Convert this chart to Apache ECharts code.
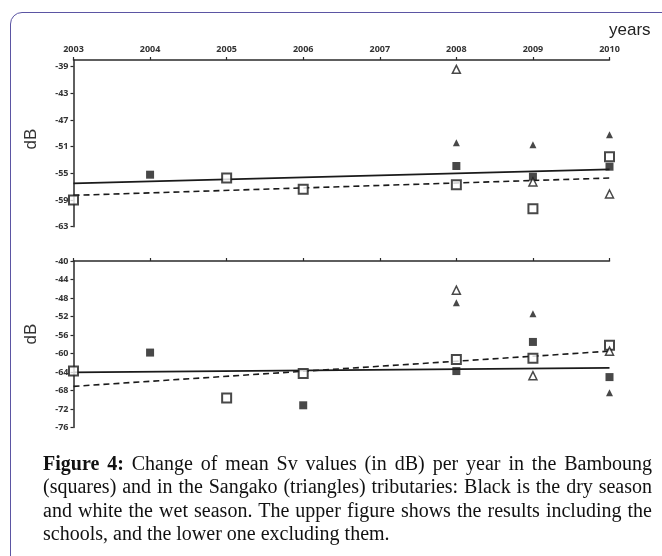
<!DOCTYPE html>
<html>
<head>
<meta charset="utf-8">
<script src="https://cdn.jsdelivr.net/npm/echarts@6/dist/echarts.min.js"></script>
<style>
  html, body { margin:0; padding:0; width:662px; height:556px; overflow:hidden; background:#fff; }
  #frame { position:absolute; left:10px; top:12px; width:720px; height:620px; border:1.5px solid #5b55a3; border-radius:12px; box-sizing:border-box; }
  #chart { position:absolute; left:0; top:0; width:662px; height:556px; }
  #caption { position:absolute; left:43px; top:452px; width:609px; font-family:"Liberation Serif","Times New Roman",serif; font-size:20px; line-height:23.4px; color:#111; text-align:justify; }
</style>
</head>
<body>
<div id="frame"></div>
<div id="chart"></div>
<div id="caption"><b>Figure 4:</b> Change of mean Sv values (in dB) per year in the Bamboung (squares) and in the Sangako (triangles) tributaries: Black is the dry season and white the wet season. The upper figure shows the results including the schools, and the lower one excluding them.</div>
<script>
// ---- data ----
const years = [2003, 2004, 2005, 2006, 2007, 2008, 2009, 2010];
const xTickLabels = ['2003', '2004', '2005', '2006', '2007', '2008', '2009', '2010'];

// Upper figure (including schools)
const upperDrySquares   = [null, -55.2, null, null, null, -53.9, -55.5, -54.0];
const upperWetSquares   = [-59.0, null, -55.7, -57.4, null, -56.7, -60.3, -52.5];
const upperDryTriangles = [null, null, null, null, null, -50.4, -50.7, -49.2];
const upperWetTriangles = [null, null, null, null, null, -39.4, -56.3, -58.1];
const trendYears = [2003, 2010];
const upperDryTrend = [-56.5, -54.4];
const upperWetTrend = [-58.3, -55.7];

// Lower figure (excluding schools)
const lowerDrySquares   = [null, -59.8, null, -71.2, null, -63.8, -57.5, -65.1];
const lowerWetSquares   = [-63.8, null, -69.6, -64.3, null, -61.3, -61.0, -58.2];
const lowerDryTriangles = [null, null, null, null, null, -49.0, -51.4, -68.5];
const lowerWetTriangles = [null, null, null, null, null, -46.3, -64.8, -59.5];
const lowerDryTrend = [-64.1, -63.1];
const lowerWetTrend = [-67.1, -59.5];

// ---- helpers ----
function pairs(xs, vals) {
  return xs.map((x, i) => [x, vals[i]]).filter(p => p[1] !== null);
}
const INK = '#1a1a1a';
const AXIS = '#2a2a2a';
const labelFont = { fontSize: 9, fontWeight: 'bold', color: '#333', fontFamily: 'Open Sans, DejaVu Sans, sans-serif' };

function xAxis(gridIndex, showLabels) {
  return {
    type: 'value', gridIndex, position: 'top', min: 2003, max: 2010, interval: 1,
    axisLine: { show: true, onZero: false, lineStyle: { color: AXIS, width: 1.5 } },
    axisTick: { show: true, inside: false, length: 3, lineStyle: { color: AXIS, width: 1.2 } },
    axisLabel: Object.assign({ show: showLabels, margin: 6,
      formatter: v => { const i = years.indexOf(v); return i >= 0 ? xTickLabels[i] : ''; } }, labelFont),
    splitLine: { show: false }
  };
}
function yAxis(gridIndex, min, max, hideMax) {
  return {
    type: 'value', gridIndex, min, max, interval: 4,
    axisLine: { show: true, onZero: false, lineStyle: { color: AXIS, width: 1.5 } },
    axisTick: { show: true, inside: false, length: 3, lineStyle: { color: AXIS, width: 1.2 } },
    axisLabel: Object.assign({ margin: 5, showMaxLabel: !hideMax }, labelFont),
    splitLine: { show: false }
  };
}
function markers(idx, vals, symbol, filled, size) {
  return {
    type: 'scatter', xAxisIndex: idx, yAxisIndex: idx, z: 5,
    symbol, symbolSize: size,
    data: pairs(years, vals),
    itemStyle: filled ? { color: INK } : { color: '#fff', borderColor: INK, borderWidth: symbol === 'rect' ? 2 : 1.5 },
    emphasis: { disabled: true }
  };
}
function trend(idx, vals, dashed) {
  return {
    type: 'line', xAxisIndex: idx, yAxisIndex: idx, z: 3,
    data: pairs(trendYears, vals), symbol: 'none', silent: true,
    lineStyle: { color: INK, width: dashed ? 1.6 : 1.8, type: dashed ? [6, 4] : 'solid' }
  };
}

const chart = echarts.init(document.getElementById('chart'), null, { renderer: 'canvas' });
chart.setOption({
  animation: false,
  backgroundColor: 'transparent',
  grid: [
    { left: 73.5, right: 52.5, top: 60, height: 166.7 },
    { left: 73.5, right: 52.5, top: 261, height: 166.5 }
  ],
  xAxis: [xAxis(0, true), xAxis(1, false)],
  yAxis: [yAxis(0, -63, -38, true), yAxis(1, -76, -40, false)],
  series: [
    trend(0, upperDryTrend, false),
    trend(0, upperWetTrend, true),
    markers(0, upperDrySquares, 'rect', true, 8),
    markers(0, upperWetSquares, 'rect', false, 9),
    markers(0, upperDryTriangles, 'triangle', true, 7),
    markers(0, upperWetTriangles, 'triangle', false, 8),
    trend(1, lowerDryTrend, false),
    trend(1, lowerWetTrend, true),
    markers(1, lowerDrySquares, 'rect', true, 8),
    markers(1, lowerWetSquares, 'rect', false, 9),
    markers(1, lowerDryTriangles, 'triangle', true, 7),
    markers(1, lowerWetTriangles, 'triangle', false, 8)
  ],
  graphic: [
    { type: 'text', left: 609, top: 22, style: { text: 'years', font: '17px "Liberation Sans", Arial, sans-serif', fill: '#222' } },
    { type: 'text', x: 31, y: 139, rotation: Math.PI / 2, style: { text: 'dB', font: '17px "Liberation Sans", Arial, sans-serif', fill: '#333', align: 'center', verticalAlign: 'middle' } },
    { type: 'text', x: 31, y: 334, rotation: Math.PI / 2, style: { text: 'dB', font: '17px "Liberation Sans", Arial, sans-serif', fill: '#333', align: 'center', verticalAlign: 'middle' } }
  ]
});
</script>
</body>
</html>
